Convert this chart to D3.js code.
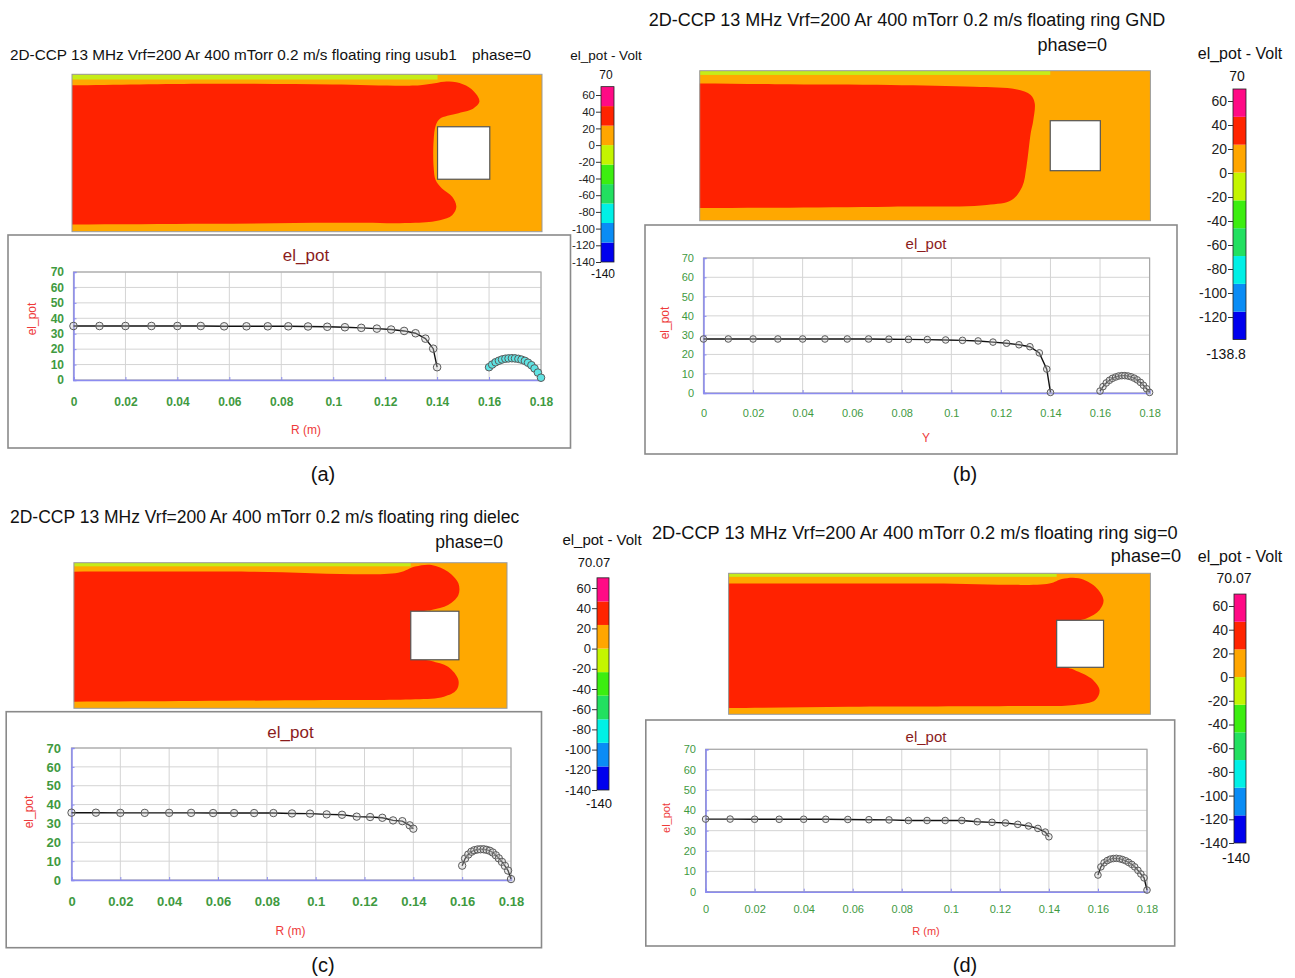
<!DOCTYPE html>
<html>
<head>
<meta charset="utf-8">
<script src="https://cdn.jsdelivr.net/npm/d3@7"></script>
<style>
  body { margin: 0; background: #fff; }
  svg { display: block; font-family: "Liberation Sans", Arial, sans-serif; }
</style>
</head>
<body>
<svg id="fig" width="1295" height="978"></svg>
<script>
// ---- data ----
const titles = [
  '2D-CCP 13 MHz Vrf=200 Ar 400 mTorr 0.2 m/s floating ring usub1',
  '2D-CCP 13 MHz Vrf=200 Ar 400 mTorr 0.2 m/s floating ring GND',
  '2D-CCP 13 MHz Vrf=200 Ar 400 mTorr 0.2 m/s floating ring dielec',
  '2D-CCP 13 MHz Vrf=200 Ar 400 mTorr 0.2 m/s floating ring sig=0'
];
const xTicks = [0, 0.02, 0.04, 0.06, 0.08, 0.1, 0.12, 0.14, 0.16, 0.18];
const yTicks = [0, 10, 20, 30, 40, 50, 60, 70];
const barTicks = [60, 40, 20, 0, -20, -40, -60, -80, -100, -120, -140];
const barTicksB = [60, 40, 20, 0, -20, -40, -60, -80, -100, -120];

// contour levels (bottom -> top) and their colours
const levelsA = [-140, -116.7, -93.3, -70, -46.7, -23.3, 0, 23.3, 46.7, 70];
const levelsB = [-138.8, -115.6, -92.4, -69.2, -46, -22.8, 0.4, 23.6, 46.8, 70];
const levelsCD = [-140, -116.7, -93.3, -70, -46.6, -23.3, 0, 23.4, 46.7, 70.07];
const bandColors = ['#0000ee', '#0a8cf5', '#00f0e6', '#22e060', '#3cee10', '#c4f500', '#ffa600', '#ff2400', '#ff0a85'];

// line cut along R: inner region (0 .. 0.14 m)
const rInner = [0, 0.01, 0.02, 0.03, 0.04, 0.049, 0.058, 0.0666, 0.0748, 0.0827, 0.0903, 0.0977, 0.1045, 0.1108, 0.1168, 0.1223, 0.1273, 0.1317, 0.1355, 0.1385, 0.14];
const potA = [35, 35, 35, 35, 35, 35, 34.8, 34.8, 34.8, 34.8, 34.7, 34.5, 34.2, 33.8, 33.3, 32.7, 31.8, 30.3, 26.8, 20.3, 8.3];
const potB = [28, 28, 28, 28, 28, 28, 28, 28, 27.9, 27.8, 27.7, 27.5, 27.3, 27, 26.4, 25.8, 25, 24, 20.8, 12.4, 0.3];
const potC = [35.7, 35.7, 35.6, 35.6, 35.6, 35.6, 35.5, 35.5, 35.5, 35.5, 35.3, 35.2, 34.8, 34.6, 33.6, 33.4, 33, 31.6, 31.2, 29, 27.2];
const potD = [35.7, 35.7, 35.6, 35.6, 35.6, 35.6, 35.5, 35.4, 35.3, 35, 35, 35, 35, 34.4, 34.1, 33.8, 33.1, 32.3, 31.1, 29.3, 27];

// outer region (0.16 .. 0.18 m)
const rOuter = [0.16, 0.1612, 0.1625, 0.1638, 0.165, 0.1663, 0.1675, 0.1688, 0.17, 0.1713, 0.1725, 0.1738, 0.175, 0.1763, 0.1775, 0.1788, 0.18];
const potAOut = [8.3, 10, 11.5, 12.5, 13.3, 13.8, 14, 14.1, 14, 13.7, 13.2, 12.4, 11.2, 9.6, 7.5, 4.8, 1.5];
const potBOut = [1, 3.3, 5.2, 6.6, 7.6, 8.3, 8.8, 9, 9, 8.8, 8.4, 7.7, 6.8, 5.5, 4, 2.2, 0.3];
const potCOut = [7.6, 11.4, 13.5, 15, 15.8, 16.2, 16.3, 16.3, 16, 15.5, 14.6, 13.1, 11.5, 9.6, 7.5, 5, 0.5];
const potDOut = [8.2, 12.2, 14.2, 15.3, 16, 16.3, 16.4, 16.2, 15.8, 15.2, 14.4, 13.4, 12.2, 10.5, 8.7, 6.8, 0.8];

// outline of the 23..47 V (red) zone in the (R, Z) map, metres
const redEdgeA = [[-0.01, 0.0557], [0.052, 0.0564], [0.0996, 0.0561], [0.1314, 0.0557], [0.1377, 0.0564], [0.1425, 0.0572], [0.1472, 0.057], [0.152, 0.0551], [0.1552, 0.0519], [0.156, 0.0494], [0.1536, 0.0469], [0.1472, 0.045], [0.1409, 0.0431], [0.1393, 0.0405], [0.1385, 0.0348], [0.1385, 0.0247], [0.1393, 0.0196], [0.1417, 0.0165], [0.1456, 0.0133], [0.1472, 0.0095], [0.1456, 0.0063], [0.1409, 0.0044], [0.1314, 0.0034], [0.0996, 0.0034], [0.052, 0.003], [-0.01, 0.0027], [-0.03, 0.0027], [-0.03, 0.0557]];
const redEdgeB = [[-0.01, 0.0549], [0.03, 0.0546], [0.0762, 0.0543], [0.1096, 0.0536], [0.1263, 0.0526], [0.1322, 0.0503], [0.1338, 0.047], [0.1332, 0.04], [0.1322, 0.035], [0.1305, 0.0216], [0.1288, 0.0136], [0.1246, 0.0083], [0.1146, 0.0063], [0.0762, 0.0056], [0.03, 0.0052], [-0.01, 0.005], [-0.03, 0.005], [-0.03, 0.0549]];
const redEdgeC = [[-0.01, 0.0563], [0.0728, 0.0563], [0.1348, 0.0559], [0.1418, 0.0584], [0.1486, 0.0591], [0.1555, 0.0563], [0.1598, 0.0515], [0.1598, 0.0467], [0.1555, 0.0426], [0.1486, 0.0405], [0.143, 0.039], [0.143, 0.021], [0.1486, 0.0195], [0.1555, 0.0171], [0.1598, 0.0117], [0.159, 0.0075], [0.1538, 0.0048], [0.1418, 0.0037], [0.1073, 0.0034], [0.05, 0.003], [-0.01, 0.0027], [-0.03, 0.0027], [-0.03, 0.0563]];
const redEdgeD = [[-0.01, 0.0557], [0.087, 0.0557], [0.1369, 0.0557], [0.1422, 0.0576], [0.1494, 0.0579], [0.1565, 0.0543], [0.16, 0.0486], [0.1583, 0.0444], [0.1529, 0.0409], [0.146, 0.0395], [0.143, 0.039], [0.143, 0.021], [0.1476, 0.0189], [0.1547, 0.0153], [0.1583, 0.0103], [0.1565, 0.0061], [0.1476, 0.004], [0.1226, 0.0035], [0.0513, 0.0032], [-0.01, 0.0026], [-0.03, 0.0026], [-0.03, 0.0557]];

const ringR = [0.14, 0.16];
const ringZ = [0.02, 0.04];
const electrodeR = [0, 0.14];

// ---- layout of the four panels ----
const panels = [
  { title: titles[0], t: [10, 60, 'start', 15.3], ph: [472, 60, 'start', 15.3],
    map: [72, 542, 74.3, 231.7], stripe: 0.058, red: redEdgeA,
    bar: { x: 601, w: 13, y60: 95, y140: 262, levels: levelsA, ticks: barTicks, fs: 11.5,
           title: [606, 60, 13.5], top: ['70', 606, 79, 12], bot: ['-140', 603, 278, 12] },
    plot: { box: [8, 235, 570.5, 448], x: [73.5, 541], y: [380, 272], fs: 12, fw: 'bold',
            title: [306, 261, 17], xlab: ['R (m)', 306, 434, 12], ylab: [32, 319, 12],
            xBase: 406, yRight: 64, r: 3.8 },
    inner: potA, outer: potAOut, outerFill: '#5fe3e3', tag: ['(a)', 323, 481] },
  { title: titles[1], t: [907, 26, 'middle', 18], ph: [1107, 51, 'end', 18],
    map: [699.7, 1150.4, 70.7, 220.7], stripe: 0.0583, red: redEdgeB,
    bar: { x: 1233, w: 13, y60: 101, y140: 317 + 20 * 1.2, levels: levelsB, ticks: barTicksB, fs: 14,
           title: [1240, 59, 16], top: ['70', 1237, 81, 14], bot: ['-138.8', 1226, 359, 14] },
    plot: { box: [645, 225, 1177, 454], x: [703.5, 1149.6], y: [393, 258], fs: 11, fw: 'normal',
            title: [926, 249, 15], xlab: ['Y', 926, 442, 12], ylab: [665, 323, 12],
            xBase: 416.5, yRight: 694, r: 3.3 },
    inner: potB, outer: potBOut, outerFill: 'rgba(200,200,200,0.35)', tag: ['(b)', 965, 481] },
  { title: titles[2], t: [10, 523, 'start', 17.5], ph: [503, 548, 'end', 17.5],
    map: [73.9, 507, 562.7, 708.3], stripe: 0.0585, red: redEdgeC,
    bar: { x: 597, w: 12, y60: 588, y140: 790, levels: levelsCD, ticks: barTicks, fs: 13,
           title: [602, 545, 15], top: ['70.07', 594, 567, 13], bot: ['-140', 599, 808, 13] },
    plot: { box: [6.2, 711.7, 541.5, 947.7], x: [71.5, 511], y: [880, 748], fs: 13, fw: 'bold',
            title: [290.5, 737.5, 17], xlab: ['R (m)', 290.5, 935, 12], ylab: [29, 812, 12],
            xBase: 906, yRight: 61, r: 3.7 },
    inner: potC, outer: potCOut, outerFill: 'rgba(200,200,200,0.35)', tag: ['(c)', 323, 972] },
  { title: titles[3], t: [652, 538.5, 'start', 18.2], ph: [1181, 562, 'end', 18.2],
    map: [728.6, 1150.4, 573.3, 714.3], stripe: 0.0585, red: redEdgeD,
    bar: { x: 1234, w: 12, y60: 606, y140: 843, levels: levelsCD, ticks: barTicks, fs: 14,
           title: [1240, 561.5, 16], top: ['70.07', 1234, 583, 14], bot: ['-140', 1236, 863, 14] },
    plot: { box: [645.8, 720, 1174.7, 946], x: [705.6, 1147], y: [891.7, 749.3], fs: 11, fw: 'normal',
            title: [926, 742, 15], xlab: ['R (m)', 926, 935, 11], ylab: [666, 818, 11],
            xBase: 913, yRight: 696, r: 3.3 },
    inner: potD, outer: potDOut, outerFill: 'rgba(200,200,200,0.35)', tag: ['(d)', 965, 972] }
];

const svg = d3.select('#fig');
const fmtX = v => String(+v.toFixed(2));

function label(g, txt, x, y, fs, anchor, fill) {
  return g.append('text').attr('x', x).attr('y', y).attr('font-size', fs)
    .attr('text-anchor', anchor || 'middle').attr('fill', fill || '#111').text(txt);
}

function drawMap(g, p, i) {
  const [x0, x1, y0, y1] = p.map;
  const x = d3.scaleLinear().domain([0, 0.18]).range([x0, x1]);
  const y = d3.scaleLinear().domain([0, 0.06]).range([y1, y0]);
  g.append('clipPath').attr('id', 'clip' + i)
    .append('rect').attr('x', x0).attr('y', y0).attr('width', x1 - x0).attr('height', y1 - y0);
  const m = g.append('g').attr('clip-path', `url(#clip${i})`);
  m.append('rect').attr('x', x0).attr('y', y0).attr('width', x1 - x0).attr('height', y1 - y0)
    .attr('fill', '#ffa800');
  m.append('rect').attr('x', x(electrodeR[0])).attr('y', y(0.06))
    .attr('width', x(electrodeR[1]) - x(electrodeR[0])).attr('height', y(p.stripe) - y(0.06))
    .attr('fill', '#c6ec18');
  const line = d3.line().x(d => x(d[0])).y(d => y(d[1])).curve(d3.curveCatmullRomClosed.alpha(0.5));
  m.append('path').attr('d', line(p.red)).attr('fill', '#ff2200');
  g.append('rect').attr('x', x(ringR[0])).attr('y', y(ringZ[1]))
    .attr('width', x(ringR[1]) - x(ringR[0])).attr('height', y(ringZ[0]) - y(ringZ[1]))
    .attr('fill', '#fff').attr('stroke', '#555').attr('stroke-width', 1.2);
  g.append('rect').attr('x', x0).attr('y', y0).attr('width', x1 - x0).attr('height', y1 - y0)
    .attr('fill', 'none').attr('stroke', '#999').attr('stroke-width', 1);
}

function drawBar(g, p) {
  const b = p.bar;
  const y = d3.scaleLinear().domain([-140, 60]).range([b.y140, b.y60]);
  const lv = b.levels;
  g.selectAll(null).data(d3.range(lv.length - 1)).enter().append('rect')
    .attr('x', b.x).attr('width', b.w)
    .attr('y', k => y(lv[k + 1])).attr('height', k => y(lv[k]) - y(lv[k + 1]))
    .attr('fill', k => bandColors[k]);
  g.append('rect').attr('x', b.x).attr('y', y(lv[lv.length - 1])).attr('width', b.w)
    .attr('height', y(lv[0]) - y(lv[lv.length - 1])).attr('fill', 'none')
    .attr('stroke', '#222').attr('stroke-width', 0.8);
  const ax = g.append('g').attr('transform', `translate(${b.x},0)`)
    .call(d3.axisLeft(y).tickValues(b.ticks).tickSize(5).tickPadding(1).tickFormat(d => String(d)));
  ax.select('.domain').remove();
  ax.selectAll('line').attr('stroke', '#333');
  ax.selectAll('text').attr('font-size', b.fs).attr('fill', '#222').attr('font-family', null);
  label(g, 'el_pot - Volt', b.title[0], b.title[1], b.title[2]);
  label(g, b.top[0], b.top[1], b.top[2], b.top[3]);
  label(g, b.bot[0], b.bot[1], b.bot[2], b.bot[3]);
}

function drawPlot(g, p) {
  const q = p.plot;
  const [bx0, by0, bx1, by1] = q.box;
  g.append('rect').attr('x', bx0).attr('y', by0).attr('width', bx1 - bx0).attr('height', by1 - by0)
    .attr('fill', '#fff').attr('stroke', '#8a8a8a').attr('stroke-width', 1.6);
  const x = d3.scaleLinear().domain([0, 0.18]).range(q.x);
  const y = d3.scaleLinear().domain([0, 70]).range(q.y);
  const w = q.x[1] - q.x[0], h = q.y[0] - q.y[1];

  // grid
  g.append('g').selectAll('line').data(xTicks.slice(1)).enter().append('line')
    .attr('x1', d => x(d)).attr('x2', d => x(d)).attr('y1', q.y[0]).attr('y2', q.y[1])
    .attr('stroke', '#d4d4d4').attr('stroke-width', 1);
  g.append('g').selectAll('line').data(yTicks.slice(1)).enter().append('line')
    .attr('x1', q.x[0]).attr('x2', q.x[1]).attr('y1', d => y(d)).attr('y2', d => y(d))
    .attr('stroke', '#d4d4d4').attr('stroke-width', 1);
  g.append('rect').attr('x', q.x[0]).attr('y', q.y[1]).attr('width', w).attr('height', h)
    .attr('fill', 'none').attr('stroke', '#a8a8a8').attr('stroke-width', 1.2);

  // axes
  const gx = g.append('g').attr('transform', `translate(0,${q.y[0]})`)
    .call(d3.axisBottom(x).tickValues(xTicks).tickSize(-3)
      .tickPadding(q.xBase - q.y[0] - 0.71 * q.fs).tickFormat(fmtX));
  const gy = g.append('g').attr('transform', `translate(${q.x[0]},0)`)
    .call(d3.axisLeft(y).tickValues(yTicks).tickSize(-3).tickPadding(q.x[0] - q.yRight));
  [gx, gy].forEach(a => {
    a.select('.domain').attr('stroke', '#8c8cf0').attr('stroke-width', 1.5);
    a.selectAll('line').attr('stroke', '#8c8cf0');
    a.selectAll('text').attr('fill', '#3f9a3f').attr('font-size', q.fs)
      .attr('font-weight', q.fw).attr('font-family', null);
  });

  label(g, 'el_pot', q.title[0], q.title[1], q.title[2], 'middle', '#8b1c1c');
  label(g, q.xlab[0], q.xlab[1], q.xlab[2], q.xlab[3], 'middle', '#ee3a3a');
  label(g, 'el_pot', 0, 0, q.ylab[2], 'middle', '#ee3a3a')
    .attr('transform', `translate(${q.ylab[0] + 4},${q.ylab[1]}) rotate(-90)`);

  const line = d3.line().x(d => x(d[0])).y(d => y(d[1]));
  const inner = d3.zip(rInner, p.inner);
  const outer = d3.zip(rOuter, p.outer);
  [[inner, 'rgba(200,200,200,0.35)'], [outer, p.outerFill]].forEach(([pts, fill]) => {
    g.append('path').attr('d', line(pts)).attr('fill', 'none')
      .attr('stroke', '#111').attr('stroke-width', 1.4);
    g.append('g').selectAll('circle').data(pts).enter().append('circle')
      .attr('cx', d => x(d[0])).attr('cy', d => y(d[1])).attr('r', q.r)
      .attr('fill', fill).attr('stroke', '#5a5a5a').attr('stroke-width', 1);
  });
}

panels.forEach((p, i) => {
  const g = svg.append('g');
  label(g, p.title, p.t[0], p.t[1], p.t[3], p.t[2]);
  label(g, 'phase=0', p.ph[0], p.ph[1], p.ph[3], p.ph[2]);
  drawMap(g, p, i);
  drawBar(g, p);
  drawPlot(g, p);
  label(g, p.tag[0], p.tag[1], p.tag[2], 20);
});
</script>
</body>
</html>
